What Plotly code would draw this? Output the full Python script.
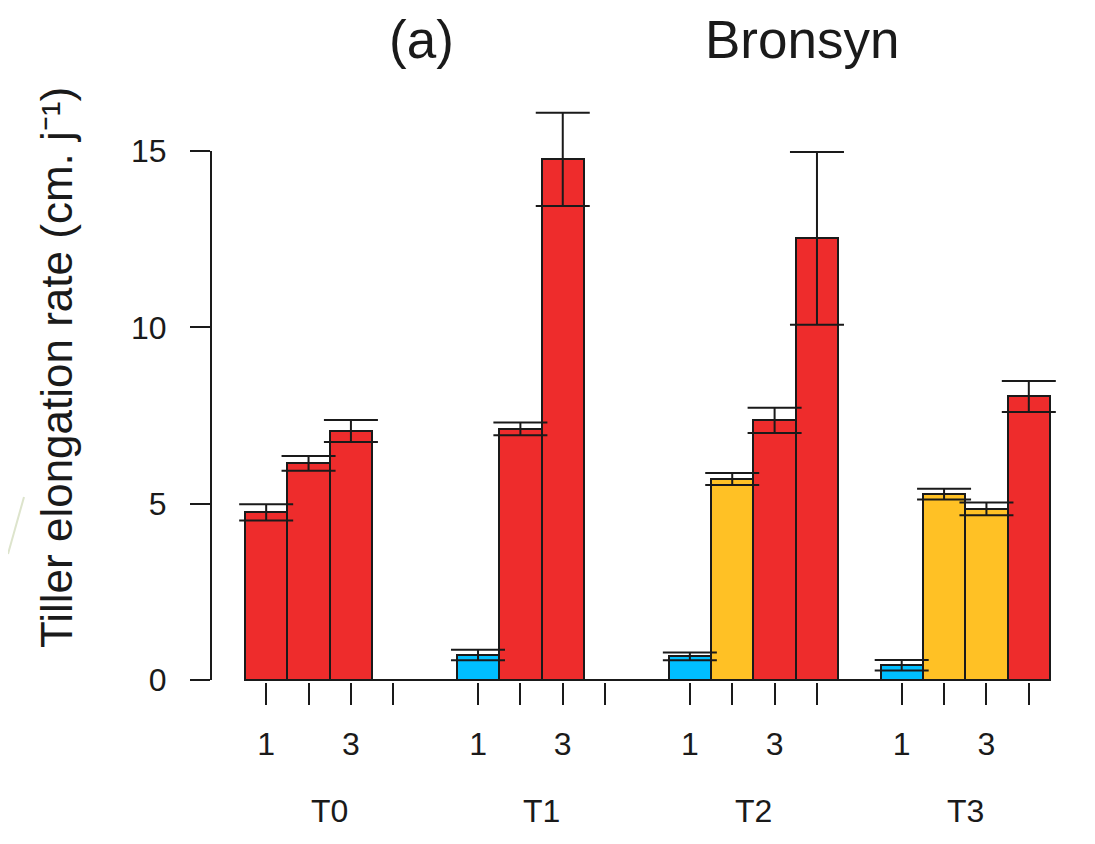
import plotly.graph_objects as go

# ---------------- data ----------------
groups = ["T0", "T1", "T2", "T3"]
sub_tick_labels = ["1", "3"]          # labelled sub-positions (1st and 3rd bar)
means = {
    "T0": [4.75, 6.14, 7.06, None],
    "T1": [0.71, 7.12, 14.76, None],
    "T2": [0.67, 5.70, 7.36, 12.52],
    "T3": [0.42, 5.27, 4.85, 8.04],
}
errors = {
    "T0": [0.23, 0.21, 0.31, None],
    "T1": [0.15, 0.18, 1.32, None],
    "T2": [0.11, 0.17, 0.36, 2.45],
    "T3": [0.15, 0.15, 0.18, 0.44],
}
classes = {
    "T0": ["high", "high", "high", None],
    "T1": ["low", "high", "high", None],
    "T2": ["low", "mid", "high", "high"],
    "T3": ["low", "mid", "mid", "high"],
}
y_ticks = [0, 5, 10, 15]

# ---------------- styles ----------------
class_colors = {"low": "#00BFFF", "mid": "#FFC125", "high": "#EE2C2C"}
FONT = "Liberation Sans, Arial, Helvetica, sans-serif"
INK = "#1a1a1a"
OFF = 8                      # page body margin
W, H = 1095 - OFF, 844 - OFF
ML, MT = 211 - OFF, 60 - OFF
MR = W - (1075 - OFF)
MB = H - (682 - OFF)
n_per = 4
gap = 1  # one bar-width gap between groups

xs, ys, es, cs = [], [], [], []
major_vals, major_text, minor_vals = [], [], []
for g_i, g in enumerate(groups):
    for i in range(n_per):
        pos = g_i * (n_per + gap) + i
        if i in (0, 2):
            major_vals.append(pos)
            major_text.append(sub_tick_labels[i // 2])
        else:
            minor_vals.append(pos)
        if means[g][i] is not None:
            xs.append(pos)
            ys.append(means[g][i])
            es.append(errors[g][i])
            cs.append(class_colors[classes[g][i]])

last = (len(groups) - 1) * (n_per + gap) + n_per - 1
plot_w = W - ML - MR
plot_h = H - MT - MB
px_per_unit = 42.368
x_left = -0.5 - (245 - 211) / px_per_unit
x_right = x_left + plot_w / px_per_unit
y_px_unit = 35.27
y_min = -2 / y_px_unit
y_max = y_min + plot_h / y_px_unit


def px_x(p):  # reference-image x pixel -> paper
    return (p - OFF - ML) / plot_w


def px_y(p):  # reference-image y pixel -> paper
    return (H - MB - (p - OFF)) / plot_h


fig = go.Figure()
fig.add_trace(go.Bar(
    x=xs, y=ys, width=1,
    marker=dict(color=cs, line=dict(color=INK, width=2)),
    error_y=dict(type="data", array=es, visible=True, color=INK,
                 thickness=2, width=27),
    showlegend=False,
))

shapes = [
    dict(type="line", xref="paper", yref="paper", x0=px_x(24), y0=px_y(497),
         x1=px_x(8), y1=px_y(554), line=dict(color="#dde4cc", width=2), layer="below"),
    dict(type="line", xref="paper", yref="y", x0=0, x1=0, y0=y_ticks[0], y1=y_ticks[-1],
         line=dict(color=INK, width=2)),
    dict(type="line", xref="x", yref="y", x0=-0.5, x1=last + 0.5, y0=0, y1=0,
         line=dict(color=INK, width=2)),
]

annotations = []
for g_i, g in enumerate(groups):
    annotations.append(dict(
        x=g_i * (n_per + gap) + (n_per - 1) / 2, xref="x",
        y=px_y(811), yref="paper", text=g, showarrow=False,
        font=dict(family=FONT, size=32, color=INK), xanchor="center", yanchor="middle"))
annotations += [
    dict(x=px_x(421), y=1.0 + MT / plot_h, xref="paper", yref="paper", text="(a)",
         showarrow=False, font=dict(family=FONT, size=53, color=INK),
         xanchor="center", yanchor="top"),
    dict(x=px_x(802), y=1.0 + MT / plot_h, xref="paper", yref="paper", text="Bronsyn",
         showarrow=False, font=dict(family=FONT, size=53, color=INK),
         xanchor="center", yanchor="top"),
    dict(x=px_x(56), y=px_y(368), xref="paper", yref="paper",
         text="Tiller elongation rate (cm. j⁻¹)", textangle=-90, showarrow=False,
         font=dict(family=FONT, size=44, color=INK), xanchor="center", yanchor="middle"),
]

fig.update_layout(
    width=W, height=H,
    margin=dict(l=ML, r=MR, t=MT, b=MB, pad=0),
    paper_bgcolor="white", plot_bgcolor="white",
    shapes=shapes, annotations=annotations,
    xaxis=dict(range=[x_left, x_right], tickmode="array", tickvals=major_vals,
               ticktext=major_text, ticks="outside", ticklen=22, tickwidth=2,
               tickcolor=INK, showgrid=False, zeroline=False, showline=False,
               tickfont=dict(family=FONT, size=32, color=INK), ticklabelstandoff=12,
               minor=dict(tickmode="array", tickvals=minor_vals, ticks="outside",
                          ticklen=22, tickwidth=2, tickcolor=INK, showgrid=False)),
    yaxis=dict(range=[y_min, y_max], tickmode="array", tickvals=y_ticks,
               ticks="outside", ticklen=20, tickwidth=2, tickcolor=INK,
               showgrid=False, zeroline=False, showline=False,
               tickfont=dict(family=FONT, size=32, color=INK), ticklabelstandoff=17),
    bargap=0,
)

fig.write_html("out.html")
